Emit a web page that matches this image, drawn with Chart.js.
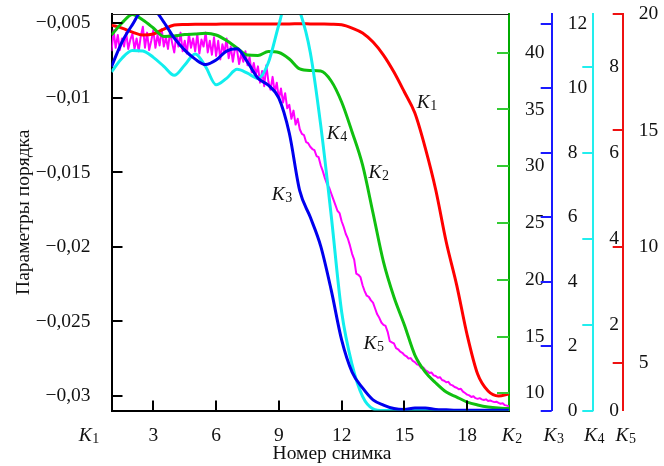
<!DOCTYPE html>
<html>
<head>
<meta charset="utf-8">
<script src="https://cdn.jsdelivr.net/npm/chart.js@4.4.0/dist/chart.umd.min.js"></script>
<style>
  html, body { margin: 0; padding: 0; background: #fff; }
  #wrap { width: 664px; height: 466px; }
</style>
</head>
<body>
<div id="wrap"><canvas id="orderChart" width="664" height="466"></canvas></div>
<script>
// snapshot numbers for the smooth curves
const frames = [1, 1.5, 2, 2.5, 3, 3.5, 4, 4.5, 5, 5.5, 6, 6.5, 7, 7.5, 8, 8.5, 9, 9.5, 10, 10.5,
  11, 11.5, 12, 12.5, 13, 13.5, 14, 14.5, 15, 15.5, 16, 16.5, 17, 17.5, 18, 18.5, 19, 19.5, 20];

// K1 - left axis
const k1Values = [-0.00512, -0.00532, -0.00559, -0.00579, -0.00572, -0.00539, -0.00512, -0.00508, -0.00506, -0.00506,
  -0.00506, -0.00505, -0.00505, -0.00505, -0.00505, -0.00505, -0.00504, -0.00504, -0.00503, -0.00504,
  -0.00505, -0.00506, -0.0051, -0.00532, -0.00565, -0.00626, -0.00713, -0.00827, -0.00961, -0.01102,
  -0.01337, -0.01618, -0.01967, -0.02256, -0.02591, -0.02853, -0.02967, -0.03, -0.02987];

// K2 - green axis
const k2Values = [41.56, 42.62, 43.37, 42.88, 42.18, 41.43, 41.47, 41.6, 41.65, 41.71,
  41.56, 41.08, 40.42, 39.8, 39.76, 40.11, 40.02, 39.45, 38.57, 38.43,
  38.39, 37.51, 35.66, 33.02, 30.11, 25.88, 21.57, 18.48, 16.02, 13.37,
  11.87, 10.91, 10.11, 9.67, 9.23, 8.97, 8.79, 8.7, 8.66];

// K3 - blue axis
const k3Values = [10.67, 11.43, 11.97, 12.42, 12.42, 12.05, 11.55, 11.18, 10.9, 10.73,
  10.87, 11.15, 11.22, 10.81, 10.31, 10.09, 9.69, 8.6, 6.81, 6.0,
  5.1, 3.74, 2.19, 1.19, 0.7, 0.33, 0.17, 0.06, 0.03, 0.08,
  0.08, 0.03, 0.02, 0.01, 0.01, 0.01, 0.01, 0.01, 0.01];

// K4 - cyan axis
const k4Values = [7.89, 8.21, 8.39, 8.38, 8.23, 8.02, 7.81, 8.05, 8.31, 8.01,
  7.59, 7.74, 7.95, 7.86, 7.74, 8.11, 8.99, 9.75, 9.3, 8.35,
  6.65, 4.55, 2.3, 1.07, 0.33, 0.04, 0, 0, 0, 0,
  0, 0, 0, 0, 0, 0, 0, 0, 0];

// K5 - red axis, noisy series sampled every 0.1 snapshot
const k5Start = 1;
const k5Step = 0.1;
const k5Values = [
  18.40, 19.30, 18.55, 19.10, 18.45, 18.95, 18.60, 19.20, 18.50, 18.90,
  19.15, 18.50, 18.95, 18.40, 19.05, 19.45, 18.55, 19.20, 18.45, 18.85,
  19.30, 18.55, 19.10, 18.65, 19.35, 18.60, 19.00, 18.50, 19.25, 18.75,
  18.35, 19.10, 18.60, 19.20, 18.40, 18.85, 18.30, 19.15, 18.55, 18.95,
  18.40, 19.15, 18.30, 18.90, 18.60, 19.20, 18.35, 18.85, 18.25, 19.00,
  18.20, 18.85, 18.05, 18.70, 18.35, 18.95, 18.10, 18.60, 17.95, 18.50,
  18.45, 17.85, 18.30, 17.95, 18.40, 17.80, 18.15, 17.50, 17.90, 17.40,
  17.75, 17.05, 17.55, 16.90, 17.80, 17.10, 16.75, 17.30, 16.65, 17.05,
  16.35, 16.80, 16.20, 16.60, 15.95, 16.10, 15.50, 15.85, 15.25, 15.50,
  15.05, 14.85, 14.80, 14.50, 14.45, 14.30, 14.20, 14.15, 13.90, 13.85,
  13.50, 13.25, 12.95, 12.70, 12.55, 12.30, 12.05, 11.80, 11.55, 11.45,
  11.10, 10.85, 10.55, 10.35, 10.05, 9.70, 9.45, 8.85, 8.80, 8.70,
  8.35, 8.10, 7.90, 7.85, 7.70, 7.60, 7.35, 7.10, 6.95, 6.75,
  6.65, 6.60, 6.35, 5.95, 5.90, 5.85, 5.65, 5.60, 5.50, 5.45,
  5.35, 5.30, 5.20, 5.22, 5.10, 5.05, 4.95, 4.92, 4.80, 4.82,
  4.70, 4.65, 4.58, 4.60, 4.48, 4.45, 4.38, 4.40, 4.28, 4.25,
  4.18, 4.20, 4.08, 4.05, 3.98, 3.95, 3.88, 3.90, 3.78, 3.72,
  3.65, 3.62, 3.55, 3.58, 3.50, 3.47, 3.50, 3.45, 3.42, 3.45,
  3.38, 3.40, 3.36, 3.33, 3.35, 3.30, 3.26, 3.28, 3.20, 3.18,
  3.15];

// tick values of every axis
const xTicks = [3, 6, 9, 12, 15, 18];
const leftTicks = [-0.005, -0.01, -0.015, -0.02, -0.025, -0.03];
const k2Ticks = [10, 15, 20, 25, 30, 35, 40];
const k3Ticks = [0, 2, 4, 6, 8, 10, 12];
const k4Ticks = [0, 2, 4, 6, 8];
const k5Ticks = [5, 10, 15, 20];

// curve captions, placed in x / left-axis units
const curveLabels = [
  { n: 1, x: 15.59, y: -0.01069 },
  { n: 4, x: 11.29, y: -0.01276 },
  { n: 2, x: 13.28, y: -0.01541 },
  { n: 3, x: 8.66, y: -0.01686 },
  { n: 5, x: 13.04, y: -0.02682 },
];

const FONT = "'Liberation Serif', 'Times New Roman', serif";
const TEXT = "#111";
const SIZE = 19.5;

function pairs(xs, ys) {
  return ys.map((y, i) => ({ x: xs[i], y }));
}

function k5Points() {
  return k5Values.map((y, i) => ({ x: Math.round((k5Start + i * k5Step) * 10) / 10, y }));
}

function fixedTicks(values) {
  return (scale) => { scale.ticks = values.map((value) => ({ value })); };
}

// keep the plot box where it is: no label overhang padding
function noPadding(scale) {
  scale.paddingTop = 0;
  scale.paddingBottom = 0;
  scale.paddingLeft = 0;
  scale.paddingRight = 0;
}

function fixedWidth(w) {
  return (scale) => { scale.width = w; noPadding(scale); };
}

function rightAxis(min, max, ticks, color, width, weight) {
  return {
    type: "linear",
    position: "right",
    min,
    max,
    weight,
    grid: { display: false },
    border: { display: true, color, width: 2 },
    ticks: { color: TEXT, font: { family: FONT, size: SIZE }, padding: 8, autoSkip: false },
    afterBuildTicks: fixedTicks(ticks),
    afterFit: fixedWidth(width),
  };
}

const tickStyles = [
  { id: "y", len: 11, color: "#000" },
  { id: "x", len: 10, color: "#000" },
  { id: "yK2", len: 12, color: "#33cc33" },
  { id: "yK3", len: 11, color: "#1a1aff" },
  { id: "yK4", len: 11, color: "#22eeee" },
  { id: "yK5", len: 10, color: "#ee1111" },
];

function drawK(ctx, x, y, n) {
  ctx.font = `italic ${SIZE}px ${FONT}`;
  ctx.textBaseline = "alphabetic";
  ctx.textAlign = "left";
  ctx.fillStyle = TEXT;
  ctx.fillText("K", x, y);
  const w = ctx.measureText("K").width;
  ctx.font = `14px ${FONT}`;
  ctx.fillText(String(n), x + w + 0.5, y + 2);
}

function kWidth(ctx, n) {
  ctx.font = `italic ${SIZE}px ${FONT}`;
  const w = ctx.measureText("K").width;
  ctx.font = `14px ${FONT}`;
  return w + 0.5 + ctx.measureText(String(n)).width;
}

const decorations = {
  id: "decorations",
  afterDraw(chart) {
    const { ctx, chartArea, scales } = chart;
    ctx.save();

    // thin frame line on top
    ctx.strokeStyle = "#222";
    ctx.lineWidth = 1;
    ctx.beginPath();
    ctx.moveTo(chartArea.left, Math.round(chartArea.top) + 0.5);
    ctx.lineTo(chartArea.right, Math.round(chartArea.top) + 0.5);
    ctx.stroke();

    // ticks pointing inwards
    tickStyles.forEach(({ id, len, color }) => {
      const scale = scales[id];
      ctx.strokeStyle = color;
      ctx.lineWidth = 2;
      scale.ticks.forEach((t) => {
        const p = Math.round(scale.getPixelForValue(t.value));
        ctx.beginPath();
        if (id === "x") {
          ctx.moveTo(p, chartArea.bottom);
          ctx.lineTo(p, chartArea.bottom - len);
        } else if (id === "y") {
          ctx.moveTo(scale.right, p);
          ctx.lineTo(scale.right + len, p);
        } else {
          ctx.moveTo(scale.left, p);
          ctx.lineTo(scale.left - len, p);
        }
        ctx.stroke();
      });
    });

    // captions on the curves
    curveLabels.forEach(({ n, x, y }) => {
      drawK(ctx, scales.x.getPixelForValue(x), scales.y.getPixelForValue(y), n);
    });

    // axis names under the axes
    const base = 441;
    const under = [
      { n: 1, cx: scales.y.right - 22.5 },
      { n: 2, cx: scales.yK2.left + 3 },
      { n: 3, cx: scales.yK3.left + 2 },
      { n: 4, cx: scales.yK4.left + 1 },
      { n: 5, cx: scales.yK5.left + 3 },
    ];
    under.forEach(({ n, cx }) => {
      drawK(ctx, cx - kWidth(ctx, n) / 2, base, n);
    });

    // x axis name, centred on the whole figure
    ctx.font = `${SIZE}px ${FONT}`;
    ctx.textAlign = "center";
    ctx.textBaseline = "alphabetic";
    ctx.fillStyle = TEXT;
    ctx.fillText("Номер снимка", chart.width / 2, 459);

    ctx.restore();
  },
};

const ctx = document.getElementById("orderChart").getContext("2d");

new Chart(ctx, {
  type: "line",
  data: {
    datasets: [
      { label: "K1", data: pairs(frames, k1Values), yAxisID: "y", borderColor: "#ff0000", borderWidth: 3, order: 3 },
      { label: "K2", data: pairs(frames, k2Values), yAxisID: "yK2", borderColor: "#10c010", borderWidth: 3, order: 2 },
      { label: "K3", data: pairs(frames, k3Values), yAxisID: "yK3", borderColor: "#0000ee", borderWidth: 3, order: 0 },
      { label: "K4", data: pairs(frames, k4Values), yAxisID: "yK4", borderColor: "#11eeee", borderWidth: 3, order: 1 },
      { label: "K5", data: k5Points(), yAxisID: "yK5", borderColor: "#ff00ff", borderWidth: 2, tension: 0, cubicInterpolationMode: "default", order: 4 },
    ],
  },
  options: {
    responsive: false,
    animation: false,
    devicePixelRatio: 1,
    layout: { padding: { top: 14, left: 0, right: 0, bottom: 0 } },
    datasets: {
      line: {
        pointRadius: 0,
        clip: 0,
        cubicInterpolationMode: "monotone",
        borderJoinStyle: "round",
        fill: false,
      },
    },
    plugins: {
      legend: { display: false },
      tooltip: { enabled: false },
      title: { display: false },
    },
    scales: {
      x: {
        type: "linear",
        position: "bottom",
        min: 1,
        max: 20,
        grid: { display: false },
        border: { display: true, color: "#000", width: 2 },
        ticks: { color: TEXT, font: { family: FONT, size: SIZE }, padding: 6, autoSkip: false, maxRotation: 0 },
        afterBuildTicks: fixedTicks(xTicks),
        afterFit: (scale) => { scale.height = 55.5; noPadding(scale); },
      },
      y: {
        type: "linear",
        position: "left",
        min: -0.030973,
        max: -0.004376,
        grid: { display: false },
        border: { display: true, color: "#000", width: 2 },
        ticks: {
          color: TEXT,
          font: { family: FONT, size: SIZE },
          padding: 13,
          autoSkip: false,
          callback: (v) => String(v).replace("-", "\u2212").replace(".", ","),
        },
        title: {
          display: true,
          text: "Параметры порядка",
          color: TEXT,
          font: { family: FONT, size: SIZE },
          padding: { top: 11.7, bottom: 0 },
        },
        afterBuildTicks: fixedTicks(leftTicks),
        afterFit: fixedWidth(111.5),
      },
      yK2: rightAxis(8.485, 43.41, k2Ticks, "#00aa00", 42.7, 1),
      yK3: rightAxis(0, 12.3, k3Ticks, "#1a1aff", 41.6, 2),
      yK4: rightAxis(0, 9.24, k4Ticks, "#22eeee", 29.4, 3),
      yK5: rightAxis(2.97, 20, k5Ticks, "#ee1111", 41.3, 4),
    },
  },
  plugins: [decorations],
});
</script>
</body>
</html>
